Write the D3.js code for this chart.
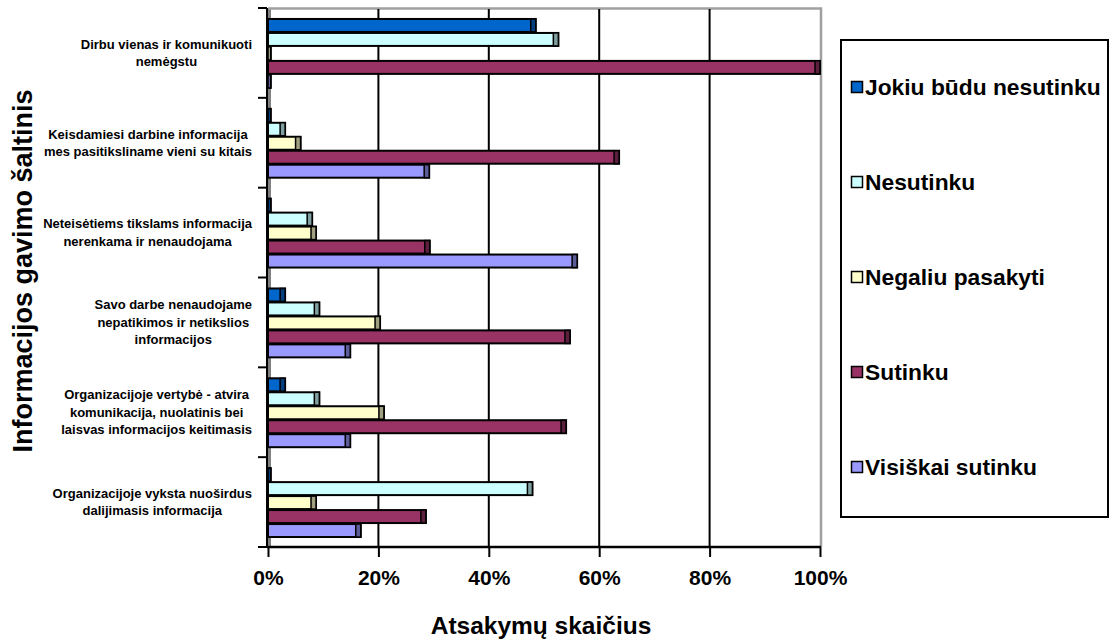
<!DOCTYPE html>
<html>
<head>
<meta charset="utf-8">
<script src="https://cdn.jsdelivr.net/npm/d3@7"></script>
<style>
  html, body { margin: 0; padding: 0; background: #fff; }
  svg { display: block; font-family: "Liberation Sans", Arial, sans-serif; font-weight: bold; }
</style>
</head>
<body>
<svg id="chart" width="1109" height="640"></svg>
<script>
// Survey statements (one group of bars each), wrapped as drawn
const categories = [
  "Dirbu vienas ir komunikuoti nemėgstu",
  "Keisdamiesi darbine informacija mes pasitiksliname vieni su kitais",
  "Neteisėtiems tikslams informacija nerenkama ir nenaudojama",
  "Savo darbe nenaudojame nepatikimos ir netikslios informacijos",
  "Organizacijoje vertybė - atvira komunikacija, nuolatinis bei laisvas informacijos keitimasis",
  "Organizacijoje vyksta nuoširdus dalijimasis informacija"
];
const categoryLines = [
  ["Dirbu vienas ir komunikuoti", "nemėgstu"],
  ["Keisdamiesi darbine informacija", "mes pasitiksliname vieni su kitais"],
  ["Neteisėtiems tikslams informacija", "nerenkama ir nenaudojama"],
  ["Savo darbe nenaudojame", "nepatikimos ir netikslios", "informacijos"],
  ["Organizacijoje vertybė - atvira", "komunikacija, nuolatinis bei", "laisvas informacijos keitimasis"],
  ["Organizacijoje vyksta nuoširdus", "dalijimasis informacija"]
];

// Answer options (series)
const seriesNames = ["Jokiu būdu nesutinku", "Nesutinku", "Negaliu pasakyti", "Sutinku", "Visiškai sutinku"];

// Share of answers, %
const jokiuBuduNesutinku = [48.5, 0.5, 0.5, 3.1, 3.1, 0.5];
const nesutinku          = [52.6, 3.1, 8.0, 9.3, 9.3, 47.9];
const negaliuPasakyti    = [0.5, 5.9, 8.7, 20.3, 21.0, 8.7];
const sutinku            = [100, 63.6, 29.3, 54.7, 54.0, 28.6];
const visiskaiSutinku    = [0.5, 29.2, 56.0, 14.9, 14.9, 16.8];

const xTicks = [0, 20, 40, 60, 80, 100];
const xTickLabels = ["0%", "20%", "40%", "60%", "80%", "100%"];

const seriesValues = [jokiuBuduNesutinku, nesutinku, negaliuPasakyti, sutinku, visiskaiSutinku];
const fills = ["#0066CC", "#CCFFFF", "#FFFFCC", "#993366", "#9999FF"];
const sideFills = ["#003F80", "#7FA0A0", "#A0A080", "#5C1F3D", "#5C5C99"];

const svg = d3.select("#chart");

const plot = { left: 268, right: 820, top: 8, bottom: 547 };

const x = d3.scaleLinear().domain([0, 100]).range([plot.left, plot.right]);
const y = d3.scaleBand().domain(d3.range(categories.length))
  .range([plot.top, plot.bottom]).paddingInner(0.222).paddingOuter(0.111);
const ys = d3.scaleBand().domain(d3.range(seriesNames.length)).range([0, y.bandwidth()]);

// side wall strip visible behind the bars
svg.append("rect")
  .attr("x", plot.left).attr("y", plot.top)
  .attr("width", 3).attr("height", plot.bottom - plot.top)
  .attr("fill", "#808080");

// back frame (top and right)
svg.append("path")
  .attr("d", `M${plot.left},${plot.top + 0.5}H${plot.right + 1}V${plot.bottom}`)
  .attr("fill", "none").attr("stroke", "#a0a0a0").attr("stroke-width", 2.5);

// vertical gridlines
svg.append("g").selectAll("line")
  .data(xTicks.filter(t => t > 0 && t < 100))
  .join("line")
  .attr("x1", d => x(d)).attr("x2", d => x(d))
  .attr("y1", plot.top + 1).attr("y2", plot.bottom)
  .attr("stroke", "#000").attr("stroke-width", 2);

// bars
const groups = svg.append("g").selectAll("g")
  .data(categories)
  .join("g")
  .attr("transform", (d, i) => `translate(0,${y(i)})`);

groups.each(function (cat, ci) {
  const g = d3.select(this);
  seriesValues.forEach((vals, si) => {
    const v = vals[ci];
    const y0 = ys(si) + 1;
    const h = ys.bandwidth() - 1;
    const xe = x(v);
    g.append("rect")
      .attr("x", x(0)).attr("y", y0)
      .attr("width", Math.max(0, xe - x(0))).attr("height", h)
      .attr("fill", fills[si]).attr("stroke", "#000").attr("stroke-width", 2);
    const capW = Math.min(5, xe - x(0));
    g.append("rect")
      .attr("x", xe - capW).attr("y", y0)
      .attr("width", capW).attr("height", h)
      .attr("fill", sideFills[si]).attr("stroke", "#000").attr("stroke-width", 1.5);
  });
});

// left axis with group separators
const sepY = d3.range(categories.length + 1).map(i => plot.top + i * y.step());
svg.append("line")
  .attr("x1", plot.left - 1).attr("x2", plot.left - 1)
  .attr("y1", plot.top).attr("y2", plot.bottom + 1)
  .attr("stroke", "#000").attr("stroke-width", 2);
svg.append("g").selectAll("line").data(sepY).join("line")
  .attr("x1", plot.left - 10).attr("x2", plot.left - 1)
  .attr("y1", d => d).attr("y2", d => d)
  .attr("stroke", "#000").attr("stroke-width", 2);

// bottom axis
const xAxis = d3.axisBottom(x).tickValues(xTicks)
  .tickFormat((d, i) => xTickLabels[i]).tickSize(10).tickPadding(13);
const ax = svg.append("g").attr("transform", `translate(0,${plot.bottom})`).call(xAxis);
ax.select(".domain").attr("stroke", "#000").attr("stroke-width", 2.5)
  .attr("d", `M${plot.left - 1},0H${plot.right + 1}`);
ax.selectAll(".tick line").attr("stroke", "#000").attr("stroke-width", 2);
ax.selectAll(".tick text")
  .attr("font-family", "'Liberation Sans', Arial, sans-serif")
  .attr("font-weight", "bold").attr("font-size", 21).attr("fill", "#000");

// category labels, centred per group and right-aligned as a block
const lineH = 17.5;
categoryLines.forEach((lines, ci) => {
  const cy = plot.top + (ci + 0.5) * y.step();
  const t = svg.append("text")
    .attr("font-size", 13).attr("fill", "#000").attr("text-anchor", "middle");
  const spans = lines.map((ln, li) => t.append("tspan")
    .attr("y", cy + (li - (lines.length - 1) / 2) * lineH)
    .attr("dy", "0.35em").text(ln));
  const maxW = d3.max(spans, s => s.node().getComputedTextLength());
  spans.forEach(s => s.attr("x", 252 - maxW / 2));
});

// axis titles
svg.append("text")
  .attr("x", (plot.left + plot.right) / 2 - 3).attr("y", 634)
  .attr("text-anchor", "middle").attr("font-size", 24.5).attr("fill", "#000")
  .text("Atsakymų skaičius");
svg.append("text")
  .attr("transform", "translate(32,271) rotate(-90)")
  .attr("text-anchor", "middle").attr("font-size", 27).attr("fill", "#000")
  .text("Informacijos gavimo šaltinis");

// legend
const legend = svg.append("g");
legend.append("rect")
  .attr("x", 841).attr("y", 40).attr("width", 267).attr("height", 477)
  .attr("fill", "#fff").attr("stroke", "#000").attr("stroke-width", 2);
const legY = d3.scalePoint().domain(d3.range(seriesNames.length)).range([87, 467]);
const items = legend.selectAll("g.item").data(seriesNames).join("g")
  .attr("class", "item")
  .attr("transform", (d, i) => `translate(851,${legY(i)})`);
items.append("rect")
  .attr("x", 0.5).attr("y", -5.5).attr("width", 11).attr("height", 11)
  .attr("fill", (d, i) => fills[i]).attr("stroke", "#000").attr("stroke-width", 1.5);
items.append("text")
  .attr("x", 14).attr("dy", "0.36em")
  .attr("font-size", 22.8).attr("fill", "#000")
  .text(d => d);
</script>
</body>
</html>
